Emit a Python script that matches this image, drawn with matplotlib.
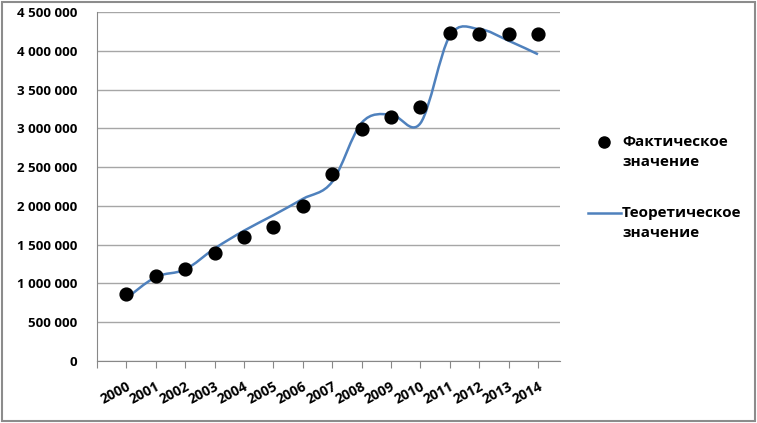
import matplotlib
matplotlib.use('Agg')
import matplotlib.pyplot as plt
from matplotlib.path import Path
from matplotlib.patches import PathPatch, Rectangle
from matplotlib.lines import Line2D
from matplotlib.ticker import FuncFormatter

plt.rcParams['font.family'] = ['Open Sans', 'DejaVu Sans']

# Данные
years = [2000, 2001, 2002, 2003, 2004, 2005, 2006, 2007,
         2008, 2009, 2010, 2011, 2012, 2013, 2014]
fact = [870000, 1090000, 1190000, 1395000, 1600000, 1730000, 2000000, 2410000,
        2990000, 3140000, 3280000, 4225000, 4215000, 4220000, 4210000]
theory = [808000, 1083000, 1180000, 1450000, 1680000, 1880000, 2090000, 2310000,
          3070000, 3180000, 3065000, 4190000, 4280000, 4130000, 3955000]
labels = ['Фактическое\nзначение', 'Теоретическое\nзначение']


def smooth_path(x, y):
    # Сглаженная линия как в Excel (кривые Безье)
    verts = [(x[0], y[0])]
    codes = [Path.MOVETO]
    n = len(x)
    for i in range(n - 1):
        x0, y0 = (x[i - 1], y[i - 1]) if i > 0 else (x[i], y[i])
        x3, y3 = (x[i + 2], y[i + 2]) if i + 2 < n else (x[i + 1], y[i + 1])
        c1 = (x[i] + (x[i + 1] - x0) / 6, y[i] + (y[i + 1] - y0) / 6)
        c2 = (x[i + 1] - (x3 - x[i]) / 6, y[i + 1] - (y3 - y[i]) / 6)
        verts += [c1, c2, (x[i + 1], y[i + 1])]
        codes += [Path.CURVE4] * 3
    return Path(verts, codes)


fig = plt.figure(figsize=(7.57, 4.23), dpi=100)
ax = fig.add_axes([97 / 757, 62 / 423, 463 / 757, 349 / 423])

ax.add_patch(PathPatch(smooth_path(years, theory), fill=False,
                       edgecolor='#4f81bd', lw=1.8, zorder=3))
ax.scatter(years, fact, s=85, color='black', zorder=4)

ax.set_xlim(1999, 2014.75)
ax.set_ylim(0, 4500000)
ax.set_yticks(range(0, 4500001, 500000))
ax.yaxis.set_major_formatter(FuncFormatter(lambda v, p: f'{int(v):,}'.replace(',', ' ')))
ax.set_xticks([1999] + years)
ax.set_xticklabels([''] + [str(y) for y in years], rotation=28,
                   fontsize=10, fontweight='bold', ha='right',
                   rotation_mode='anchor')
ax.tick_params(axis='x', direction='out', length=5, color='#888888', pad=8)
ax.tick_params(axis='y', length=0, labelsize=9.5, pad=14)
for lbl in ax.get_yticklabels():
    lbl.set_fontweight('bold')
ax.grid(axis='y', color='#a6a6a6', lw=1)
ax.set_axisbelow(True)
for s in ['top', 'right']:
    ax.spines[s].set_visible(False)
ax.spines['left'].set_color('#888888')
ax.spines['bottom'].set_color('#888888')

# Легенда
W, H = 757, 423
fig.add_artist(Line2D([604 / W], [1 - 142 / H], marker='o', color='black',
                      markersize=8, linestyle='none', transform=fig.transFigure))
fig.add_artist(Line2D([588 / W, 621 / W], [1 - 213 / H] * 2, color='#4f81bd',
                      lw=1.8, transform=fig.transFigure))
for lab, ytop in zip(labels, [135, 206]):
    fig.text(622 / W, 1 - ytop / H, lab, fontsize=11, fontweight='bold',
             va='top', ha='left', linespacing=1.55)

fig.add_artist(Rectangle((0.003, 0.005), 0.994, 0.99, transform=fig.transFigure,
                         fill=False, edgecolor='#8c8c8c', lw=1.5))

fig.savefig('out.png', dpi=100)
